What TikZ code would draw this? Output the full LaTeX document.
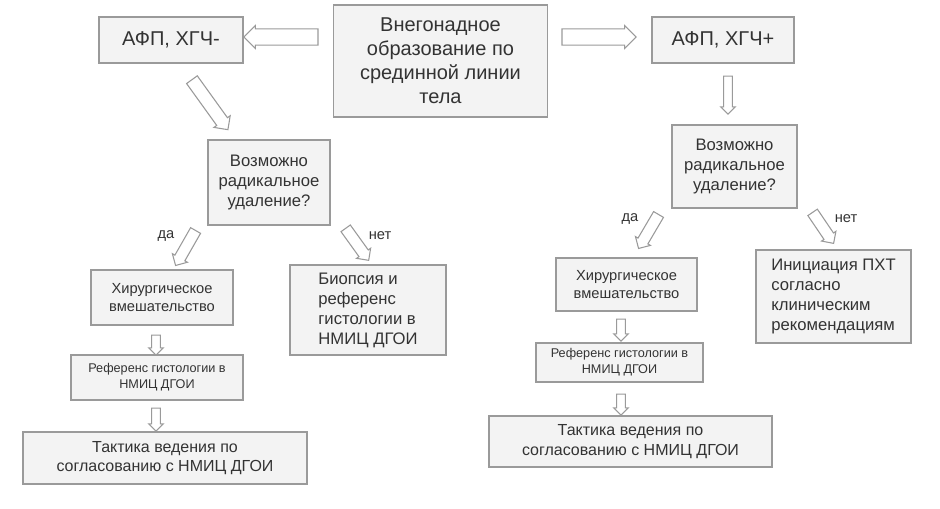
\documentclass[tikz,border=0pt]{standalone}
\usepackage{fontspec}
\setmainfont{Liberation Sans}
\usetikzlibrary{shapes.arrows}
\definecolor{bfill}{HTML}{F3F3F3}
\definecolor{bline}{HTML}{9A9A9A}
\definecolor{txt}{HTML}{333333}
\tikzset{
 box/.style={draw=bline, fill=bfill, line width=0.9pt, text=txt, align=center, inner sep=2pt},
 barrow/.style={single arrow, draw=bline, fill=white, line width=0.8pt, single arrow head extend=2pt},
 lab/.style={text=txt, font=\fontsize{11}{13}\selectfont}
}
\newcommand\harrow[7]{%
 \pgfmathsetmacro\mydx{#4-#2}\pgfmathsetmacro\mydy{#5-#3}%
 \pgfmathsetmacro\mylen{veclen(\mydx,\mydy)*0.75}\pgfmathsetmacro\myang{atan2(-\mydy,\mydx)}%
 \node[barrow, minimum height=\mylen pt, minimum width=#6pt, inner xsep=0pt, inner ysep=#7pt, rotate=\myang] (#1) at ({(#2+#4)/2},{(#3+#5)/2}) {};}
\begin{document}
\begin{tikzpicture}[x=0.75pt,y=-0.75pt]
\useasboundingbox (0,0) rectangle (940,508);
\node[box, minimum width=161pt, minimum height=84pt, font=\fontsize{15}{18}\selectfont] (c) at (440.5,61) {Внегонадное\\образование по\\срединной линии\\тела};
\node[box, minimum width=108pt, minimum height=34.5pt, font=\fontsize{15}{18}\selectfont] (am) at (171,40) {АФП, ХГЧ-};
\node[box, minimum width=106.5pt, minimum height=34.5pt, font=\fontsize{15}{18}\selectfont] (ap) at (723,40) {АФП, ХГЧ+};
\node[box, minimum width=91.5pt, minimum height=63.75pt, font=\fontsize{12.5}{15}\selectfont] (ql) at (269,182.5) {Возможно\\радикальное\\удаление?};
\node[box, minimum width=93.75pt, minimum height=62.25pt, font=\fontsize{12.5}{15}\selectfont] (qr) at (734.5,166.5) {Возможно\\радикальное\\удаление?};
\node[box, minimum width=106.5pt, minimum height=41.25pt, font=\fontsize{11}{13.5}\selectfont] (hl) at (162,297.5) {Хирургическое\\вмешательство};
\node[box, minimum width=117pt, minimum height=67.5pt, align=left, font=\fontsize{12.5}{15}\selectfont] (bi) at (368,310) {Биопсия и\\референс\\гистологии в\\НМИЦ ДГОИ};
\node[box, minimum width=129pt, minimum height=33.75pt, font=\fontsize{9.5}{12}\selectfont] (rl) at (157,377.5) {Референс гистологии в\\НМИЦ ДГОИ};
\node[box, minimum width=213pt, minimum height=39pt, font=\fontsize{12}{14.5}\selectfont] (tl) at (165,458) {Тактика ведения по\\согласованию с НМИЦ ДГОИ};
\node[box, minimum width=105.75pt, minimum height=39.75pt, font=\fontsize{11}{13.5}\selectfont] (hr) at (626.5,284.5) {Хирургическое\\вмешательство};
\node[box, minimum width=116.25pt, minimum height=69.75pt, align=left, font=\fontsize{12.5}{15}\selectfont] (in) at (833.5,296.5) {Инициация ПХТ\\согласно\\клиническим\\рекомендациям};
\node[box, minimum width=125.25pt, minimum height=29.25pt, font=\fontsize{9.5}{12}\selectfont] (rr) at (619.5,362.5) {Референс гистологии в\\НМИЦ ДГОИ};
\node[box, minimum width=212.25pt, minimum height=38.25pt, font=\fontsize{12}{14.5}\selectfont] (tr) at (630.5,441.5) {Тактика ведения по\\согласованию с НМИЦ ДГОИ};
\harrow{a1}{322}{37}{248}{37}{17}{4.5}
\harrow{a2}{558}{37}{632}{37}{17}{4.5}
\harrow{a3}{190}{77}{226}{127}{15}{3.5}
\harrow{a4}{728}{74}{728}{112}{11}{2.5}
\harrow{a5}{197}{228}{177}{263}{13}{3.5}
\harrow{a6}{344}{226}{367}{258}{13}{3.5}
\harrow{a7}{156}{333}{156}{353}{11}{2.5}
\harrow{a8}{156}{406}{156}{429}{11}{2.5}
\harrow{a9}{660}{212}{640}{246}{13}{3.5}
\harrow{a10}{811}{210}{832}{241}{13}{3.5}
\harrow{a11}{621}{317}{621}{339}{11}{2.5}
\harrow{a12}{621}{392}{621}{413}{11}{2.5}
\node[lab] (l1) at (166,236) {да};
\node[lab] (l2) at (380,236) {нет};
\node[lab] (l3) at (630,219) {да};
\node[lab] (l4) at (846,219) {нет};
\end{tikzpicture}
\end{document}
